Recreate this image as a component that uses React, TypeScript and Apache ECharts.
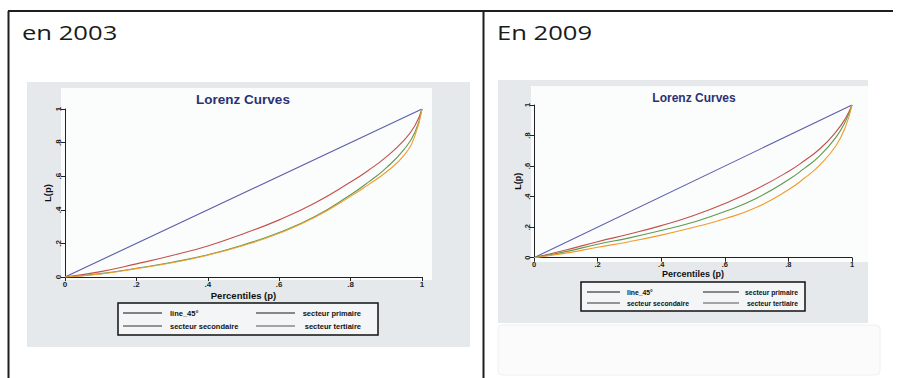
import React, { useEffect, useRef } from "react";
import * as echarts from "echarts";

// Percentile grid (p) and cumulative share L(p) per sector, 2003
const P_2003 = [0, 0.1, 0.2, 0.3, 0.4, 0.5, 0.6, 0.7, 0.8, 0.85, 0.9, 0.95, 0.98, 1];
const PRIMAIRE_2003 = [0, 0.032, 0.078, 0.128, 0.185, 0.258, 0.34, 0.44, 0.565, 0.635, 0.715, 0.815, 0.9, 1];
const SECONDAIRE_2003 = [0, 0.02, 0.052, 0.088, 0.132, 0.192, 0.265, 0.36, 0.49, 0.565, 0.65, 0.76, 0.86, 1];
const TERTIAIRE_2003 = [0, 0.018, 0.05, 0.085, 0.13, 0.188, 0.26, 0.355, 0.48, 0.55, 0.625, 0.725, 0.84, 1];

// Same, 2009
const P_2009 = [0, 0.1, 0.2, 0.3, 0.4, 0.5, 0.6, 0.7, 0.8, 0.85, 0.9, 0.95, 0.98, 1];
const PRIMAIRE_2009 = [0, 0.05, 0.105, 0.155, 0.21, 0.275, 0.355, 0.45, 0.565, 0.635, 0.715, 0.825, 0.915, 1];
const SECONDAIRE_2009 = [0, 0.04, 0.088, 0.13, 0.178, 0.232, 0.302, 0.39, 0.51, 0.585, 0.67, 0.79, 0.895, 1];
const TERTIAIRE_2009 = [0, 0.03, 0.068, 0.105, 0.148, 0.198, 0.255, 0.33, 0.445, 0.52, 0.61, 0.735, 0.86, 1];

// Equality line
const DIAG = [0, 1];

const SERIES_NAMES = ["line_45°", "secteur primaire", "secteur secondaire", "secteur tertiaire"];
const SERIES_COLORS = ["#5b5ea8", "#c4504c", "#5f9a4e", "#f29b2c"];
const LEGEND_KEY_COLORS = ["#111", "#1a1a1a", "#333", "#555"];
const PANEL_TITLES = ["en 2003", "En 2009"];
const CHART_TITLE = "Lorenz Curves";
const X_NAME = "Percentiles (p)";
const Y_NAME = "L(p)";

const fmtTick = (v: number) => (v === 0 ? "0" : v === 1 ? "1" : String(+v.toFixed(1)).replace("0.", "."));

const zip = (xs: number[], ys: number[]) => xs.map((x, i) => [x, ys[i]]);

type Panel = {
  grid: { left: number; top: number; width: number; height: number };
  bg: [number, number, number, number];
  plot: [number, number, number, number];
  title: [number, number, number];
  heading: [number, number];
  legend: { box: [number, number, number, number]; rows: [number, number]; keyL: [number, number]; keyR: [number, number]; textL: number; textR: number; font: number };
  nameGapX: number;
  nameGapY: number;
  fs: number;
  data: number[][][];
};

const panels: Panel[] = [
  {
    grid: { left: 65, top: 109, width: 357, height: 168 },
    bg: [27, 82, 443, 265],
    plot: [61, 88, 371, 192],
    title: [243, 99, 13.5],
    heading: [22, 32],
    legend: { box: [118, 303, 260, 32], rows: [313, 326], keyL: [123, 162], keyR: [256, 295], textL: 170, textR: 361, font: 7.5 },
    nameGapX: 13,
    nameGapY: 13,
    fs: 8,
    data: [
      zip(DIAG, DIAG),
      zip(P_2003, PRIMAIRE_2003),
      zip(P_2003, SECONDAIRE_2003),
      zip(P_2003, TERTIAIRE_2003),
    ],
  },
  {
    grid: { left: 534, top: 105, width: 318, height: 152.7 },
    bg: [498, 80, 370, 243],
    plot: [531, 86, 337, 176],
    title: [694, 98, 12],
    heading: [497, 32],
    legend: { box: [581, 282, 224, 29], rows: [292, 303], keyL: [587, 620], keyR: [703, 739], textL: 627, textR: 798, font: 6.8 },
    nameGapX: 12,
    nameGapY: 12,
    fs: 7.5,
    data: [
      zip(DIAG, DIAG),
      zip(P_2009, PRIMAIRE_2009),
      zip(P_2009, SECONDAIRE_2009),
      zip(P_2009, TERTIAIRE_2009),
    ],
  },
];

export default function App() {
  const ref = useRef<HTMLDivElement>(null);

  useEffect(() => {
    if (!ref.current) return;
    const chart = echarts.init(ref.current, undefined, { renderer: "svg" });

    const graphic: any[] = [];
    // Slide frame
    graphic.push({ type: "line", z: 50, shape: { x1: 8, y1: 11, x2: 893, y2: 11 }, style: { stroke: "#1e1e1e", lineWidth: 2 } });
    graphic.push({ type: "line", z: 50, shape: { x1: 8.5, y1: 11, x2: 8.5, y2: 378 }, style: { stroke: "#1e1e1e", lineWidth: 2 } });
    graphic.push({ type: "line", z: 50, shape: { x1: 483.5, y1: 11, x2: 483.5, y2: 378 }, style: { stroke: "#1e1e1e", lineWidth: 2 } });
    // Faint empty box under the 2009 chart
    graphic.push({ type: "rect", z: -100, shape: { x: 498, y: 325, width: 382, height: 50, r: 4 }, style: { fill: "#fbfbfb", stroke: "#f0f0f0", lineWidth: 1 } });

    panels.forEach((p, i) => {
      graphic.push({
        type: "text",
        x: p.heading[0],
        y: p.heading[1],
        scaleX: 1.28,
        style: { text: PANEL_TITLES[i], fill: "#1a1a1a", fontSize: 20, fontFamily: "Open Sans", verticalAlign: "middle" },
      });
      graphic.push({ type: "rect", z: -100, shape: { x: p.bg[0], y: p.bg[1], width: p.bg[2], height: p.bg[3] }, style: { fill: "#e6e9eb" } });
      graphic.push({ type: "rect", z: -99, shape: { x: p.plot[0], y: p.plot[1], width: p.plot[2], height: p.plot[3] }, style: { fill: "#fbfdfd" } });
      graphic.push({
        type: "text",
        x: p.title[0],
        y: p.title[1],
        style: { text: CHART_TITLE, fill: "#2b3172", fontSize: p.title[2], fontWeight: "bold", fontFamily: "Liberation Sans", align: "center", verticalAlign: "middle" },
      });
      const lg = p.legend;
      graphic.push({ type: "rect", z: 40, shape: { x: lg.box[0], y: lg.box[1], width: lg.box[2], height: lg.box[3] }, style: { fill: "#f4f5f6", stroke: "#111", lineWidth: 1.5 } });
      SERIES_NAMES.forEach((name, k) => {
        const row = lg.rows[Math.floor(k / 2)];
        const right = k % 2 === 1;
        const key = right ? lg.keyR : lg.keyL;
        graphic.push({ type: "line", z: 41, shape: { x1: key[0], y1: row, x2: key[1], y2: row }, style: { stroke: LEGEND_KEY_COLORS[k], lineWidth: 1.2 } });
        graphic.push({
          type: "text",
          z: 41,
          x: right ? lg.textR : lg.textL,
          y: row,
          style: { text: name, fill: "#111", fontSize: lg.font, fontWeight: "bold", fontFamily: "Liberation Sans", align: right ? "right" : "left", verticalAlign: "middle" },
        });
      });
    });

    const axisCommon = {
      type: "value" as const,
      min: 0,
      max: 1,
      interval: 0.2,
      splitLine: { show: false },
      axisLine: { show: true, lineStyle: { color: "#222", width: 1 } },
      axisTick: { show: true, inside: false, length: 4, lineStyle: { color: "#222" } },
      nameLocation: "middle" as const,
    };

    chart.setOption({
      animation: false,
      backgroundColor: "#ffffff",
      graphic,
      grid: panels.map((p) => ({ ...p.grid, containLabel: false })),
      xAxis: panels.map((p, i) => ({
        ...axisCommon,
        gridIndex: i,
        name: X_NAME,
        nameGap: p.nameGapX,
        nameTextStyle: { fontSize: p.fs + 1.5, fontWeight: "bold", color: "#111", fontFamily: "Liberation Sans" },
        axisLabel: { formatter: fmtTick, fontSize: p.fs, fontWeight: "bold", color: "#222", margin: 3, fontFamily: "Liberation Sans" },
      })),
      yAxis: panels.map((p, i) => ({
        ...axisCommon,
        gridIndex: i,
        name: Y_NAME,
        nameGap: p.nameGapY,
        nameRotate: 90,
        nameTextStyle: { fontSize: p.fs + 1.5, fontWeight: "bold", color: "#111", fontFamily: "Liberation Sans" },
        axisLabel: { formatter: fmtTick, fontSize: p.fs, fontWeight: "bold", color: "#222", margin: 3, rotate: 90, fontFamily: "Liberation Sans" },
      })),
      series: panels.flatMap((p, i) =>
        p.data.map((d, k) => ({
          type: "line",
          name: SERIES_NAMES[k],
          xAxisIndex: i,
          yAxisIndex: i,
          data: d,
          showSymbol: false,
          smooth: k === 0 ? false : 0.5,
          lineStyle: { color: SERIES_COLORS[k], width: 1.1 },
          itemStyle: { color: SERIES_COLORS[k] },
          z: 2,
        }))
      ),
    });

    return () => chart.dispose();
  }, []);

  return <div ref={ref} style={{ position: "fixed", left: 0, top: 0, width: 897, height: 378 }} />;
}
